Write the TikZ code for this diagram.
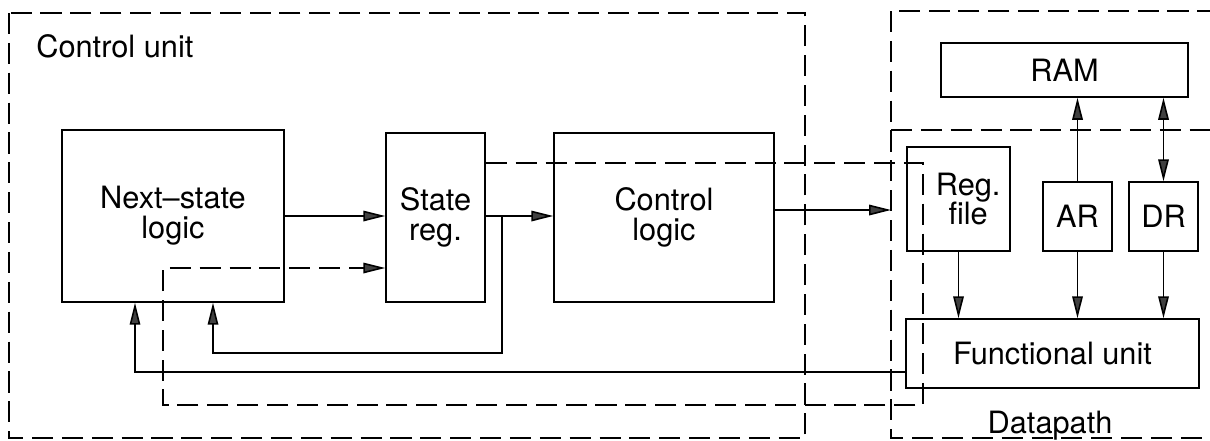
\documentclass[tikz,border=0pt]{standalone}
\usepackage{fontspec}
\setmainfont{TeX Gyre Heros}
\usetikzlibrary{arrows.meta}
\tikzset{
  blk/.style = {draw, line width=0.9pt, rectangle, inner sep=0pt, align=center, font=\fontsize{17.5}{17}\selectfont},
  lbl/.style = {inner sep=0pt, font=\fontsize{17.5}{17}\selectfont},
  region/.style = {line width=0.9pt, dash pattern=on 12pt off 5pt},
  ctl/.style = {line width=0.9pt, dash pattern=on 12pt off 5pt, ->},
  arrow/.style = {line width=0.9pt, ->},
  >={Triangle[length=12.5pt,width=6pt,fill=black!75]}
}
\begin{document}
\begin{tikzpicture}[x=0.02cm, y=-0.02cm]
  \clip (0,0) rectangle (1210,440);
  \draw[region] (9,13) rectangle (805,438);
  \draw[region] (891,11) rectangle (1240,438);
  \draw[region] (891,130) -- (1240,130);
  \node[lbl, anchor=base west] (cutxt) at (36,57) {Control unit};
  \node[lbl, anchor=base] (dptxt) at (1050,433) {Datapath};
  \node[blk, minimum width=4.44cm, minimum height=3.44cm] (nsl) at (173,216) {Next--state\\logic};
  \node[blk, minimum width=1.98cm, minimum height=3.38cm] (sreg) at (435.5,217.5) {State\\reg.};
  \node[blk, minimum width=4.4cm, minimum height=3.38cm] (clog) at (664,217.5) {Control\\logic};
  \node[blk, minimum width=4.94cm, minimum height=1.08cm] (ram) at (1064.5,70) {RAM};
  \node[blk, minimum width=2.06cm, minimum height=2.08cm] (rfile) at (958.5,199) {\hspace*{11pt}Reg.\\\hspace*{11pt}file};
  \node[blk, minimum width=1.38cm, minimum height=1.38cm] (ar) at (1077.5,216.5) {AR};
  \node[blk, minimum width=1.38cm, minimum height=1.38cm] (dr) at (1163.5,216.5) {DR};
  \node[blk, minimum width=5.86cm, minimum height=1.38cm] (fu) at (1052.5,353.5) {Functional unit};
  \coordinate (j1) at (502,216);
  \coordinate (fb1) at (213,353);
  \coordinate (fb2) at (135,372);
  \coordinate (cin) at (891,210);
  \coordinate (c1) at (923,163);
  \coordinate (c2) at (163,405);
  \coordinate (c3) at (163,268);
  \draw[arrow] (nsl.east |- j1) -- (sreg.west |- j1);
  \draw[arrow] (sreg.east |- j1) -- (clog.west |- j1);
  \draw[arrow] (j1) |- (fb1) -- (fb1 |- nsl.south);
  \draw[arrow] (clog.east |- cin) -- (cin);
  \draw[arrow] (fu.west |- fb2) -- (fb2) -- (fb2 |- nsl.south);
  \draw[ctl] (sreg.east |- c1) -- (c1) -- (c1 |- c2) -- (c2) -- (c3) -- (c3 -| sreg.west);
  \draw[arrow] (rfile.south) -- (rfile.south |- fu.north);
  \draw[arrow] (ar.south) -- (ar.south |- fu.north);
  \draw[arrow] (dr.south) -- (dr.south |- fu.north);
  \draw[arrow] (ar.north) -- (ar.north |- ram.south);
  \draw[<->, line width=0.9pt] (dr.north) -- (dr.north |- ram.south);
\end{tikzpicture}
\end{document}
